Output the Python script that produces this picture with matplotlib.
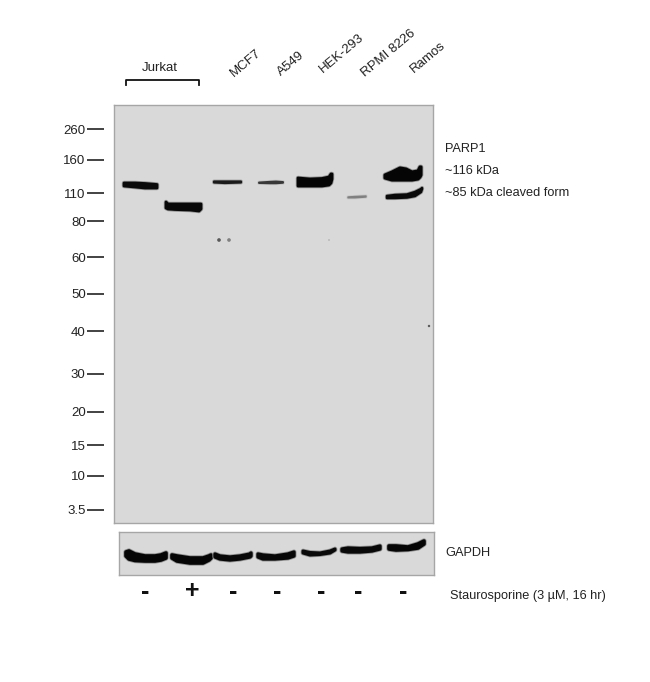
#!/usr/bin/env python3

import matplotlib
matplotlib.use('Agg')
from matplotlib import pyplot as plt
from matplotlib import patheffects as pe
from matplotlib.transforms import ScaledTranslation

W, H = 650, 682

plt.rcParams['font.family'] = ['Liberation Sans', 'DejaVu Sans']

MW_LABELS = ['260', '160', '110', '80', '60', '50', '40', '30', '20', '15', '10', '3.5']
MW_ROWS = [129, 160, 193, 221, 257, 294, 331, 374, 412, 445, 476, 510]

CELL_LINES = ['MCF7', 'A549', 'HEK-293', 'RPMI 8226', 'Ramos']
CELL_X = [246, 291, 342, 389, 428]
CELL_Y = [63, 64, 53, 53, 57]

SIGNS = ['-', '+', '-', '-', '-', '-', '-']
SIGN_X = [145, 192, 233, 277, 321, 358, 403]

# bands: columns, upper edge, lower edge, grey level, stroke width
PARP_BANDS = [
    ([124, 135, 145, 157], [183, 183, 183.5, 184.5], [186, 187, 188, 188], 0.04, 2.0),
    ([166, 168, 175, 190, 199, 201], [202, 204, 204, 204, 204, 204], [208, 209, 209.5, 210, 211, 209], 0.03, 2.0),
    ([214, 225, 241], [181.5, 181.5, 181.5], [182.5, 183, 182.5], 0.1, 1.6),
    ([259, 270, 276, 283], [182.5, 181.8, 181.5, 182], [183, 183.3, 183.3, 182.8], 0.22, 1.4),
    ([298, 310, 322, 329, 331, 332], [178, 179, 178.5, 177, 174, 174], [186, 186, 186, 185, 183, 179], 0.02, 2.0),
    ([348, 355, 366], [197, 196.5, 196], [197.8, 197.8, 197], 0.5, 1.0),
    ([385, 392, 400, 406, 412, 418, 420, 421], [175, 172, 168, 169, 172, 171, 167, 167], [178, 180, 180, 180, 180, 179, 177, 175], 0.02, 2.2),
    ([387, 395, 407, 415, 421, 422], [196, 195, 194.5, 192, 189, 188], [198, 198, 197.5, 196, 192, 189], 0.04, 1.8),
]
PARP_SPOTS_X = [219, 229, 329, 429]
PARP_SPOTS_Y = [240, 240, 240, 326]
PARP_SPOTS_SIZE = [7, 7, 2, 3]
PARP_SPOTS_GREY = [0.35, 0.5, 0.72, 0.35]

GAPDH_BANDS = [
    ([126, 129, 135, 145, 155, 161, 166], [552, 551, 554, 556, 556, 555, 553], [556, 559, 560.5, 561, 561, 560, 558], 0.02, 2.6),
    ([172, 177, 190, 203, 209, 211], [555, 556, 558, 558, 556, 555], [558, 561, 563, 563, 560, 558], 0.02, 2.6),
    ([215, 220, 230, 240, 250, 251], [554, 556, 557, 556, 554, 553], [557, 559, 560, 559, 557, 556], 0.03, 2.4),
    ([258, 263, 275, 288, 294], [554, 555, 556, 554, 552], [557, 559, 559, 558, 556], 0.03, 2.4),
    ([303, 310, 320, 330, 335], [551, 552.5, 553, 551, 549], [553, 555, 554.5, 553, 550], 0.04, 2.2),
    ([342, 348, 360, 372, 380], [549, 548, 548.5, 548, 546], [551, 552, 552, 551, 549], 0.03, 2.4),
    ([389, 396, 408, 418, 424], [546, 546, 547, 544, 541], [549, 550, 549.5, 548, 544], 0.02, 2.6),
]


def pixel_axes(fig, left, top, right, bottom):
    ax = fig.add_axes([left / W, 1 - bottom / H, (right - left) / W, (bottom - top) / H])
    ax.set_xlim(left, right)
    ax.set_ylim(bottom, top)
    ax.set_facecolor('#d9d9d9')
    ax.set_xticks([])
    ax.set_yticks([])
    for spine in ax.spines.values():
        spine.set_color('#a6a6a6')
        spine.set_linewidth(1)
    return ax


def draw_bands(ax, bands):
    for cols, upper, lower, grey, width in bands:
        poly = ax.fill_between(cols, upper, lower, color=str(grey), linewidth=0)
        poly.set_path_effects([
            pe.Stroke(linewidth=width + 1.2, foreground=str(min(grey + 0.55, 0.78)), joinstyle='round'),
            pe.Stroke(linewidth=width, foreground=str(grey), joinstyle='round'),
            pe.Normal(),
        ])


fig = plt.figure(figsize=(W / 100, H / 100), dpi=100)

page = fig.add_axes([0, 0, 1, 1])
page.set_xlim(0, W)
page.set_ylim(H, 0)
page.axis('off')

blot = pixel_axes(fig, 114, 105, 433, 523)
draw_bands(blot, PARP_BANDS)
blot.scatter(PARP_SPOTS_X, PARP_SPOTS_Y, s=PARP_SPOTS_SIZE, c=[str(g) for g in PARP_SPOTS_GREY], linewidths=0)

# marker ticks stand clear of the membrane, so shift them left by 10 px
blot.set_yticks(MW_ROWS, MW_LABELS)
blot.tick_params(axis='y', length=12.2, width=1.2, color='#222222', pad=1, labelsize=9.5,
                 labelcolor='#222222', direction='out')
shift = ScaledTranslation(-7.2 / 72, 0, fig.dpi_scale_trans)
for tick in blot.yaxis.get_major_ticks():
    tick.tick1line.set_transform(tick.tick1line.get_transform() + shift)
    tick.label1.set_transform(tick.label1.get_transform() + shift)

gapdh = pixel_axes(fig, 119, 532, 434, 575)
draw_bands(gapdh, GAPDH_BANDS)

# Jurkat bracket and lane labels
page.plot([126, 126, 199, 199], [85, 80, 80, 85], color='#111111', lw=1.3)
page.text(160, 68, 'Jurkat', ha='center', va='center', fontsize=9.5, color='#222222')
for name, x, y in zip(CELL_LINES, CELL_X, CELL_Y):
    page.text(x, y, name, rotation=40, ha='center', va='center', fontsize=9.5,
              color='#222222', rotation_mode='anchor')

page.text(445, 148.5, 'PARP1', va='center', fontsize=9.2, color='#222222')
page.text(445, 170.5, '~116 kDa', va='center', fontsize=9.2, color='#222222')
page.text(445, 192.5, '~85 kDa cleaved form', va='center', fontsize=9.2, color='#222222')
page.text(445, 552.5, 'GAPDH', va='center', fontsize=9.2, color='#222222')
page.text(450, 595.5, 'Staurosporine (3 µM, 16 hr)', va='center', fontsize=9.2, color='#222222')

for sign, x in zip(SIGNS, SIGN_X):
    page.text(x, 591.5, sign, ha='center', va='center', fontsize=18, fontweight='bold', color='#111111')

fig.savefig('out.png', dpi=100)
